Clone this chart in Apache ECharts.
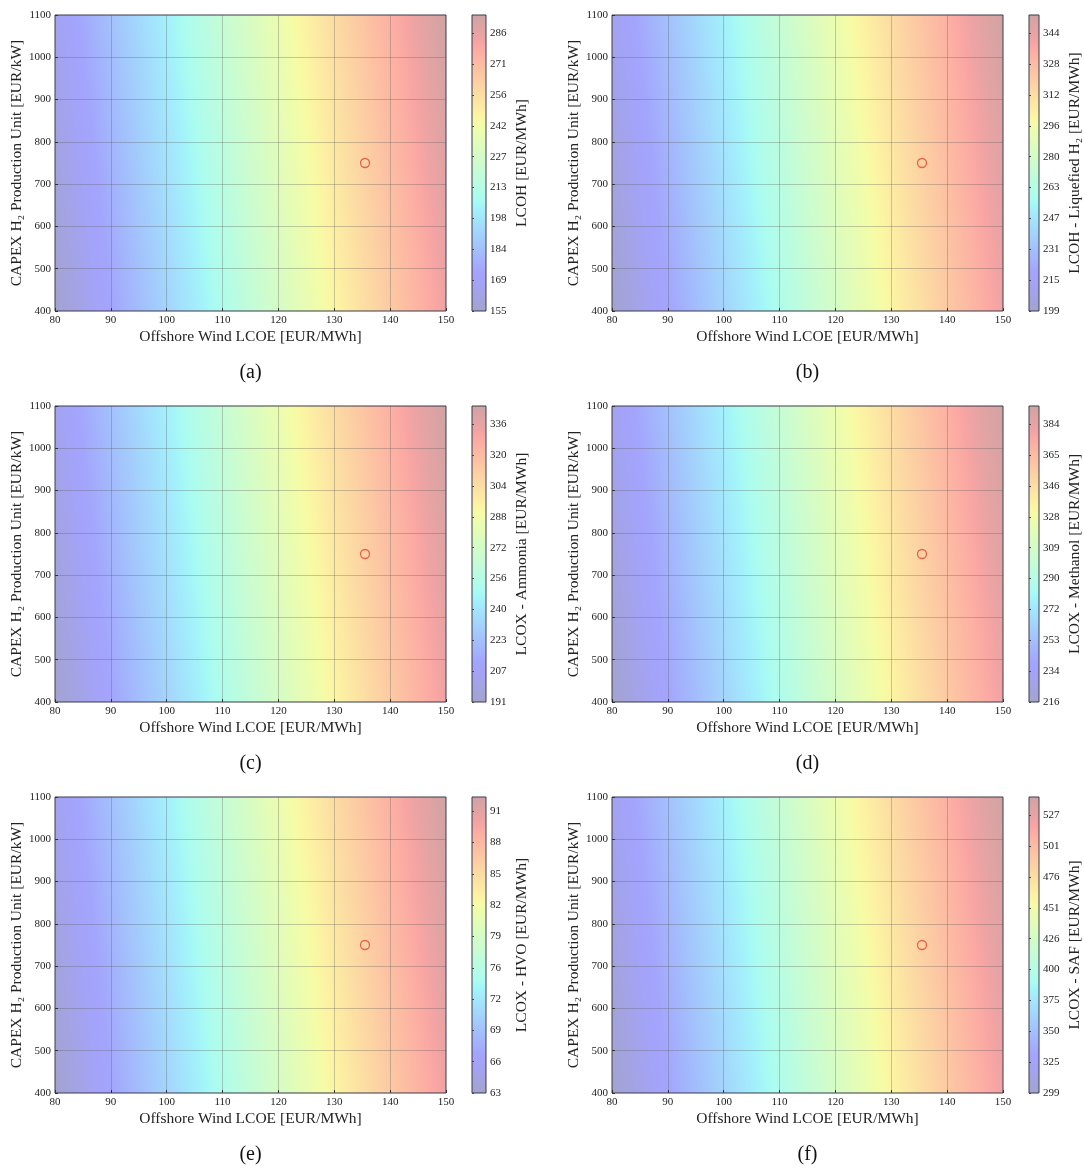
<!DOCTYPE html>
<html><head><meta charset="utf-8">
<script src="https://cdn.jsdelivr.net/npm/echarts@6/dist/echarts.min.js"></script>
<style>html,body{margin:0;padding:0;background:#fff}#c{width:1084px;height:1169px}</style>
</head><body><div id="c"></div>
<script>
// ---------- data ----------
const xTicks = [80, 90, 100, 110, 120, 130, 140, 150];           // Offshore Wind LCOE [EUR/MWh]
const yTicks = [400, 500, 600, 700, 800, 900, 1000, 1100];       // CAPEX H2 [EUR/kW]
const panelLetters = ['(a)', '(b)', '(c)', '(d)', '(e)', '(f)'];
const cbTitles = [
  'LCOH [EUR/MWh]',
  'LCOH - Liquefied H\u2082 [EUR/MWh]',
  'LCOX - Ammonia [EUR/MWh]',
  'LCOX - Methanol [EUR/MWh]',
  'LCOX - HVO [EUR/MWh]',
  'LCOX - SAF [EUR/MWh]'
];
const cbTicksA = [155, 169, 184, 198, 213, 227, 242, 256, 271, 286];
const cbTicksB = [199, 215, 231, 247, 263, 280, 296, 312, 328, 344];
const cbTicksC = [191, 207, 223, 240, 256, 272, 288, 304, 320, 336];
const cbTicksD = [216, 234, 253, 272, 290, 309, 328, 346, 365, 384];
const cbTicksE = [63, 66, 69, 72, 76, 79, 82, 85, 88, 91];
const cbTicksF = [299, 325, 350, 375, 400, 426, 451, 476, 501, 527];
const cbTickLabels = [cbTicksA, cbTicksB, cbTicksC, cbTicksD, cbTicksE, cbTicksF];
const cbMin  = [155.0, 199.2, 191.5, 216.0, 63.4, 299.0];
const cbMax  = [294.6, 354.2, 345.7, 395.0, 92.8, 541.9];
const cbStep = [14.56, 16.16, 16.08, 18.67, 3.11, 25.33];
// field values at corners: [LCOE 80 & CAPEX 400, LCOE 150 & CAPEX 400, LCOE 80 & CAPEX 1100, LCOE 150 & CAPEX 1100]
const cornersA = [155.0, 283.4, 166.2, 294.6];
const cornersB = [199.2, 341.8, 211.6, 354.2];
const cornersC = [191.5, 333.4, 203.8, 345.7];
const cornersD = [216.0, 380.7, 230.3, 395.0];
const cornersE = [63.4, 90.5, 65.7, 92.8];
const cornersF = [299.0, 522.5, 318.4, 541.9];
const fieldCorners = [cornersA, cornersB, cornersC, cornersD, cornersE, cornersF];
const basePoint = [135.5, 750];

// ---------- style ----------
const FONT = 'Liberation Serif';
const ALPHA = 0.35;
const jetR = [[0,0],[0.35,0],[0.66,1],[0.89,1],[1,0.5]];
const jetG = [[0,0],[0.125,0],[0.375,1],[0.64,1],[0.91,0],[1,0]];
const jetB = [[0,0.5],[0.11,1],[0.34,1],[0.65,0],[1,0]];
function seg(tab, t) {
  if (t <= tab[0][0]) return tab[0][1];
  for (let i = 1; i < tab.length; i++) {
    if (t <= tab[i][0]) {
      const a = tab[i-1], b = tab[i];
      return a[1] + (b[1]-a[1]) * (t - a[0]) / (b[0]-a[0]);
    }
  }
  return tab[tab.length-1][1];
}
function cmap(t) {
  t = Math.max(0, Math.min(1, t));
  const f = c => Math.round(250 * (1 - ALPHA) + ALPHA * 255 * c);
  return 'rgb(' + f(seg(jetR,t)) + ',' + f(seg(jetG,t)) + ',' + f(seg(jetB,t)) + ')';
}

const colLeft = [55, 612], plotW = 391, cbOff = 417, cbW = 14;
const rowTop = [15, 406, 797], plotH = 296;
const TITLE_SIZE = 15.5;

const grids = [], xAxes = [], yAxes = [], series = [], graphics = [];
for (let p = 0; p < 6; p++) {
  const r = Math.floor(p / 2), c = p % 2;
  const left = colLeft[c], top = rowTop[r];
  grids.push({left: left, top: top, width: plotW, height: plotH, containLabel: false});
  grids.push({left: left + cbOff, top: top, width: cbW, height: plotH, containLabel: false});
  const gi = 2 * p, ci = 2 * p + 1;
  const txt = {fontFamily: FONT, color: '#222'};
  const grid = {show: true, showMinLine: false, showMaxLine: false, lineStyle: {color: 'rgba(90,90,90,0.32)', width: 1}};
  xAxes.push({
    gridIndex: gi, type: 'value', min: xTicks[0], max: xTicks[xTicks.length-1], interval: 10, z: 5,
    name: 'Offshore Wind LCOE [EUR/MWh]', nameLocation: 'middle', nameGap: 18,
    nameTextStyle: Object.assign({fontSize: TITLE_SIZE}, txt),
    axisLine: {show: false}, axisTick: {show: true, inside: true, length: 3, lineStyle: {color: '#333'}},
    axisLabel: Object.assign({fontSize: 11, margin: 4, formatter: v => String(v)}, txt),
    splitLine: grid
  });
  yAxes.push({
    gridIndex: gi, type: 'value', min: yTicks[0], max: yTicks[yTicks.length-1], interval: 100, z: 5,
    name: 'CAPEX H\u2082 Production Unit [EUR/kW]', nameLocation: 'middle', nameGap: 27, nameRotate: 90,
    nameTextStyle: Object.assign({fontSize: TITLE_SIZE}, txt),
    axisLine: {show: false}, axisTick: {show: true, inside: true, length: 3, lineStyle: {color: '#333'}},
    axisLabel: Object.assign({fontSize: 11, margin: 4, formatter: v => String(v)}, txt),
    splitLine: grid
  });
  xAxes.push({gridIndex: ci, type: 'value', min: 0, max: 1, show: false});
  const labels = cbTickLabels[p];
  yAxes.push({
    gridIndex: ci, type: 'value', position: 'right', min: cbMin[p], max: cbMax[p], interval: cbStep[p], z: 5,
    name: cbTitles[p], nameLocation: 'middle', nameGap: 28, nameRotate: 90,
    nameTextStyle: Object.assign({fontSize: TITLE_SIZE}, txt),
    axisLine: {show: false},
    axisTick: {show: true, inside: false, length: 2, lineStyle: {color: '#444'}},
    axisLabel: Object.assign({fontSize: 11, margin: 4, showMaxLabel: false,
      formatter: (v, i) => (labels[i] !== undefined ? String(labels[i]) : '')}, txt),
    splitLine: {show: false}
  });
  const corners = fieldCorners[p], cmin = cbMin[p], cmax = cbMax[p];
  series.push({
    type: 'custom', xAxisIndex: gi, yAxisIndex: gi, silent: true, z: 1,
    data: [[xTicks[0], yTicks[0], xTicks[xTicks.length-1], yTicks[yTicks.length-1]]],
    renderItem: function (params, api) {
      const x0 = api.value(0), y0 = api.value(1), x1 = api.value(2), y1 = api.value(3);
      const p00 = api.coord([x0, y0]), p10 = api.coord([x1, y0]), p01 = api.coord([x0, y1]), p11 = api.coord([x1, y1]);
      const dvdx = ((corners[1]-corners[0]) + (corners[3]-corners[2])) / 2 / (p10[0]-p00[0]);
      const dvdy = ((corners[2]-corners[0]) + (corners[3]-corners[1])) / 2 / (p01[1]-p00[1]);
      const g2 = dvdx*dvdx + dvdy*dvdy;
      const vLo = corners[0], vHi = corners[3];
      const k = (vHi - vLo) / g2;
      const ex = p00[0] + dvdx*k, ey = p00[1] + dvdy*k;
      const stops = [];
      const N = 60;
      for (let i = 0; i <= N; i++) {
        const t = i / N, v = vLo + t * (vHi - vLo);
        stops.push({offset: t, color: cmap((v - cmin) / (cmax - cmin))});
      }
      return {
        type: 'rect',
        shape: {x: p00[0], y: p11[1], width: p11[0]-p00[0], height: p00[1]-p11[1]},
        style: {fill: new echarts.graphic.LinearGradient(p00[0], p00[1], ex, ey, stops, true), stroke: '#3a3a4a', lineWidth: 1}
      };
    }
  });
  series.push({
    type: 'custom', xAxisIndex: ci, yAxisIndex: ci, silent: true, z: 1,
    data: [[0, cmin, 1, cmax]],
    renderItem: function (params, api) {
      const a = api.coord([api.value(0), api.value(1)]), b = api.coord([api.value(2), api.value(3)]);
      const stops = [];
      const N = 60;
      for (let i = 0; i <= N; i++) stops.push({offset: i / N, color: cmap(i / N)});
      return {
        type: 'rect',
        shape: {x: a[0], y: b[1], width: b[0]-a[0], height: a[1]-b[1]},
        style: {fill: new echarts.graphic.LinearGradient(0, a[1], 0, b[1], stops, true), stroke: '#3a3a4a', lineWidth: 1}
      };
    }
  });
  series.push({
    type: 'scatter', xAxisIndex: gi, yAxisIndex: gi, silent: true, z: 10,
    data: [basePoint], symbol: 'circle', symbolSize: 9,
    itemStyle: {color: 'rgba(0,0,0,0)', borderColor: '#e0452e', borderWidth: 1.3}
  });
  graphics.push({
    type: 'text', x: left + plotW / 2, y: top + plotH + 62,
    style: {text: panelLetters[p], font: '20px "' + FONT + '"', fill: '#111', align: 'center', verticalAlign: 'middle'}
  });
}

const chart = echarts.init(document.getElementById('c'), null, {renderer: 'canvas'});
chart.setOption({
  animation: false,
  backgroundColor: '#fff',
  grid: grids, xAxis: xAxes, yAxis: yAxes, series: series, graphic: graphics
});
</script></body></html>
